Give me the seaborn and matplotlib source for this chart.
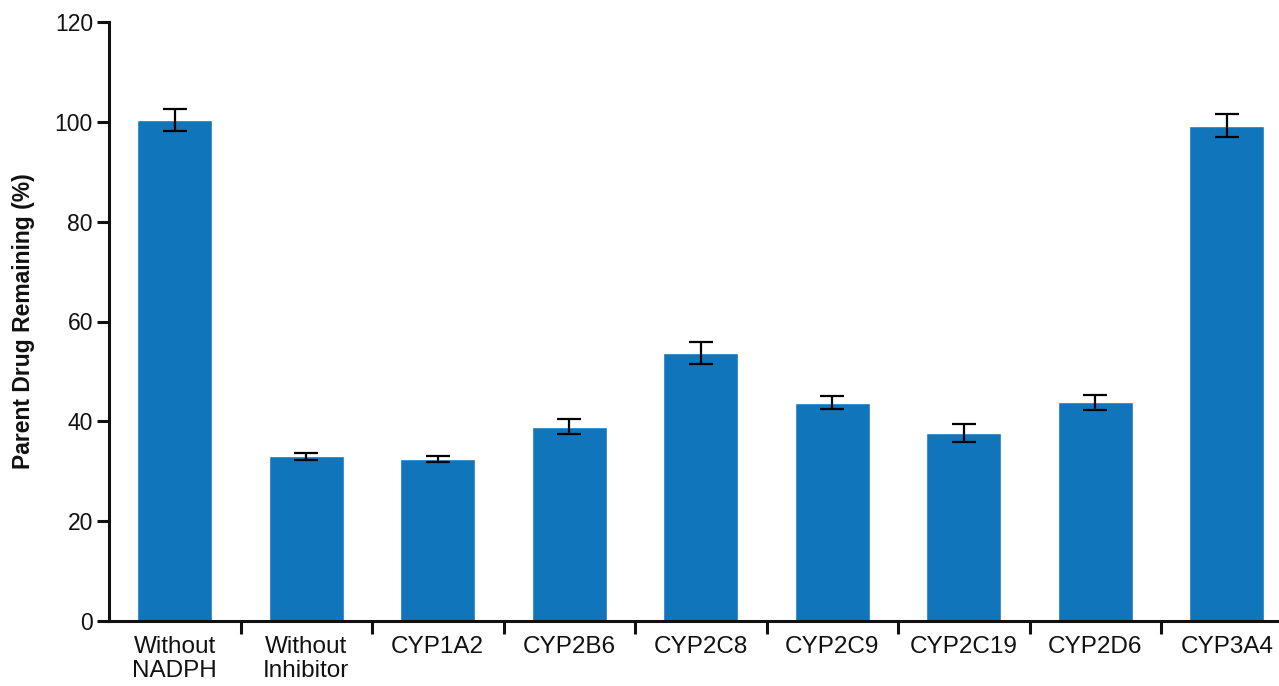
import matplotlib
matplotlib.use("Agg")
import matplotlib.pyplot as plt
import seaborn as sns
import pandas as pd
import numpy as np

categories = ["Without\nNADPH", "Without\nInhibitor", "CYP1A2", "CYP2B6", "CYP2C8",
              "CYP2C9", "CYP2C19", "CYP2D6", "CYP3A4"]
values = [100.3, 33.0, 32.4, 38.9, 53.7, 43.7, 37.7, 43.8, 99.2]
errors = [2.2, 0.7, 0.6, 1.5, 2.2, 1.3, 1.8, 1.5, 2.3]
y_ticks = [0, 20, 40, 60, 80, 100, 120]

sns.set_theme(style="ticks")
plt.rcParams["font.family"] = ["Liberation Sans", "DejaVu Sans"]
plt.rcParams["text.color"] = "#111111"
plt.rcParams["xtick.labelcolor"] = "#111111"
plt.rcParams["ytick.labelcolor"] = "#111111"
plt.rcParams["axes.labelcolor"] = "#111111"

df = pd.DataFrame({"cat": categories, "val": values})

fig = plt.figure(figsize=(12.79, 6.86), dpi=100)
ax = fig.add_axes([109 / 1279, 65 / 686, 1183.5 / 1279, 599 / 686])

sns.barplot(data=df, x="cat", y="val", color="#1075BB", saturation=1,
            width=0.57, errorbar=None, ax=ax, order=categories)
ax.errorbar(np.arange(len(categories)), values, yerr=errors, fmt="none",
            ecolor="black", elinewidth=1.6, capsize=8.3, capthick=1.6, zorder=5)

ax.set_xlim(-0.5, len(categories) - 0.5)
ax.set_ylim(0, 120)
ax.set_yticks(y_ticks)
ax.set_yticklabels([str(t) for t in y_ticks], fontsize=16.5, color="#111111")
ax.set_xticks(range(len(categories)))
ax.set_xticklabels(categories, fontsize=17.5, va="top", linespacing=1.08, color="#111111")
ax.set_xticks(np.arange(0.5, len(categories) - 0.5, 1.0), minor=True)

ax.tick_params(axis="x", which="major", length=0, pad=11)
ax.tick_params(axis="x", which="minor", length=9.4, width=2.2, direction="out", color="#111111")
ax.tick_params(axis="y", which="major", length=8.6, width=2.2, pad=3, color="#111111")

ax.set_xlabel("")
ax.set_ylabel("Parent Drug Remaining (%)", fontsize=16.5, fontweight="bold", labelpad=14,
              color="#111111")

for s in ["top", "right"]:
    ax.spines[s].set_visible(False)
for s in ["left", "bottom"]:
    ax.spines[s].set_linewidth(2.2)
    ax.spines[s].set_color("#111111")

fig.savefig("out.png", dpi=100)
